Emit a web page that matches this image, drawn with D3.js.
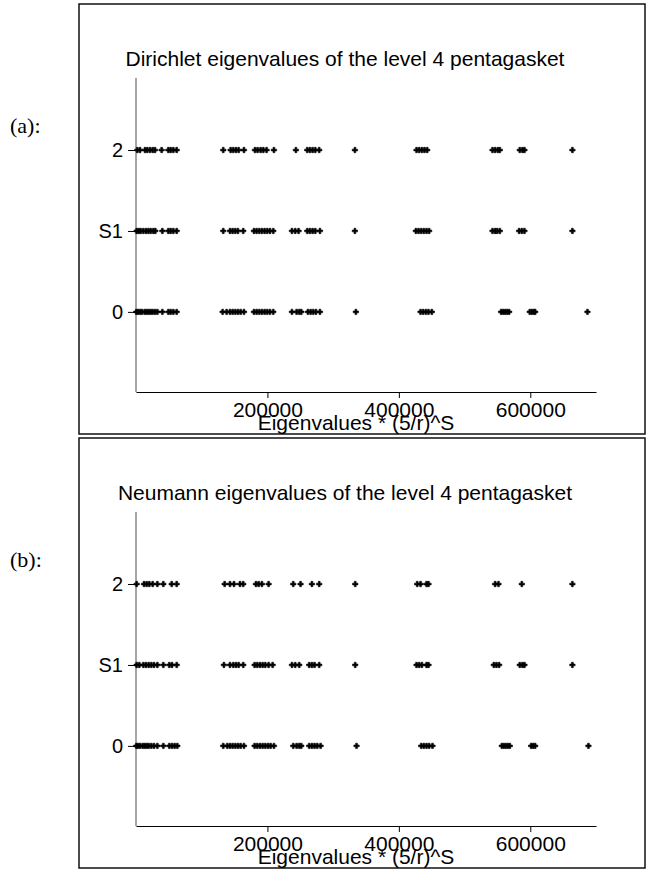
<!DOCTYPE html>
<html>
<head>
<meta charset="utf-8">
<script src="https://cdnjs.cloudflare.com/ajax/libs/d3/7.8.5/d3.min.js"></script>
<style>
    body { margin: 0; background: #fff; }
    svg { display: block; }
    text { font-family: "Liberation Sans", Arial, sans-serif; }
</style>
</head>
<body>
<div id="chart"></div>
<script>
/**
 * Values (eigenvalue * (5/r)^S), one array per row.
 */
var rowLabels = ["0", "S1", "2"];
var xTicks = [200000, 400000, 600000];

var dirichlet0 = [500, 3000, 6100, 9100, 13200, 16200, 19300, 22300, 25400, 28900, 32500, 40100,
    49200, 52700, 56800, 61900, 131800, 137900, 143000, 147000, 151100, 155100, 159200, 164300,
    179500, 183500, 187600, 191600, 195700, 199700, 203800, 208900, 237300, 244400, 248400, 251500,
    261600, 265700, 269700, 273800, 279900, 334600, 433000, 437000, 441100, 445100, 450200,
    555600, 558700, 561700, 564800, 567800, 599200, 602300, 605300, 607400, 687000];
var dirichletS1 = [1000, 4100, 7100, 11200, 15200, 18800, 22300, 26400, 29400, 40100, 49200, 52700,
    56800, 61900, 132800, 143000, 147000, 151100, 155100, 163200, 179500, 183500, 187600, 191600,
    195700, 199700, 203800, 208900, 237300, 242300, 247400, 260600, 264600, 268700, 272800, 279900,
    333100, 425900, 429900, 434000, 438000, 442100, 446100, 542500, 546500, 549600, 553600,
    583000, 587100, 591100, 664100];
var dirichlet2 = [2000, 6100, 13700, 17200, 21300, 25400, 28900, 39000, 49200, 52700, 56800, 61900,
    132800, 144000, 148000, 152100, 156200, 164300, 181000, 185000, 189600, 193700, 198700, 209900,
    243300, 260600, 264600, 268700, 272800, 278800, 333100, 426900, 430900, 435000, 439000, 443100,
    542500, 546500, 550600, 553600, 584000, 588100, 591100, 664100];

var neumann0 = [500, 3000, 6100, 10100, 13200, 16200, 19300, 23300, 27400, 32500, 41600, 50700,
    54800, 58800, 62900, 132800, 138900, 143000, 147000, 151100, 155100, 159200, 164300, 180500,
    184500, 188600, 192700, 196700, 200800, 204800, 209900, 239300, 244400, 248400, 251500, 263600,
    267700, 271700, 275800, 280900, 335600, 434000, 438000, 442100, 446100, 451200, 556700, 559700,
    562700, 565800, 568800, 601300, 604300, 607400, 688500];
var neumannS1 = [1000, 5100, 11200, 15200, 19300, 23300, 27400, 32500, 41600, 50700, 54800, 61900,
    133800, 143000, 148000, 152100, 156200, 163200, 180500, 184500, 188600, 192700, 196700, 201800,
    207900, 237300, 242300, 248400, 263600, 267700, 271700, 278800, 333600, 426900, 430900, 435000,
    442100, 445100, 544500, 548500, 552600, 584000, 588100, 591100, 664100];
var neumann2 = [1000, 12200, 16200, 20300, 25400, 32500, 41600, 54300, 61900, 134900, 143000,
    149100, 158200, 163200, 182500, 186600, 191600, 201800, 239300, 250400, 267700, 278800, 333600,
    427900, 433000, 442100, 445100, 546500, 551600, 587100, 664100];

var panels = [
    { tag: "(a):", title: "Dirichlet eigenvalues of the level 4 pentagasket", rows: [dirichlet0, dirichletS1, dirichlet2] },
    { tag: "(b):", title: "Neumann eigenvalues of the level 4 pentagasket", rows: [neumann0, neumannS1, neumann2] }
];

var width = 646;
var height = 871;
var panelStep = 434;

var plot = { left: 136, right: 596, top: 78, bottom: 392 };

var x = d3.scaleLinear()
    .domain([0, 700000])
    .range([plot.left, plot.right]);

var y = d3.scaleLinear()
    .domain([-0.99, 2.89])
    .range([plot.bottom, plot.top]);

var svg = d3.select("#chart").append("svg")
    .attr("width", width)
    .attr("height", height);

var dot = d3.symbol().type(d3.symbolCross).size(16);

panels.forEach(function (p, i) {
    var g = svg.append("g")
        .attr("transform", `translate(0,${i * panelStep})`);

    g.append("rect")
        .attr("x", 79)
        .attr("y", 4)
        .attr("width", 566)
        .attr("height", 430)
        .attr("fill", "none")
        .attr("stroke", "#111")
        .attr("stroke-width", 1.5);

    g.append("text")
        .attr("x", 10)
        .attr("y", 133)
        .style("font-family", "'Liberation Serif', serif")
        .style("font-size", "22px")
        .text(p.tag);

    g.append("text")
        .attr("x", 345)
        .attr("y", 66)
        .attr("text-anchor", "middle")
        .style("font-size", "21px")
        .text(p.title);

    // y axis: gray spine, black ticks
    g.append("line")
        .attr("x1", plot.left).attr("x2", plot.left)
        .attr("y1", plot.top).attr("y2", plot.bottom)
        .attr("stroke", "#888")
        .attr("stroke-width", 1.5);

    g.append("g")
        .attr("transform", `translate(${plot.left},0)`)
        .call(d3.axisLeft(y)
            .tickValues([0, 1, 2])
            .tickFormat(d => rowLabels[d])
            .tickSize(8)
            .tickPadding(5))
        .call(g => g.select(".domain").remove())
        .call(g => g.selectAll("text")
            .style("font-size", "20px")
            .attr("fill", "#000"));

    g.append("g")
        .attr("transform", `translate(0,${plot.bottom})`)
        .call(d3.axisBottom(x)
            .tickValues(xTicks)
            .tickFormat(d3.format("d"))
            .tickSize(6)
            .tickSizeOuter(0)
            .tickPadding(4))
        .call(g => g.selectAll("text")
            .style("font-size", "21px")
            .attr("fill", "#000"));

    g.append("text")
        .attr("x", 356)
        .attr("y", 430)
        .attr("text-anchor", "middle")
        .style("font-size", "21px")
        .text("Eigenvalues * (5/r)^S");

    p.rows.forEach(function (vals, r) {
        g.append("g")
            .selectAll("path")
            .data(vals)
            .enter()
            .append("path")
            .attr("d", dot)
            .attr("transform", d => `translate(${x(d)},${y(r)})`)
            .attr("fill", "#000")
            .attr("stroke", "#000")
            .attr("stroke-width", 0.6);
    });
});
</script>
</body>
</html>
